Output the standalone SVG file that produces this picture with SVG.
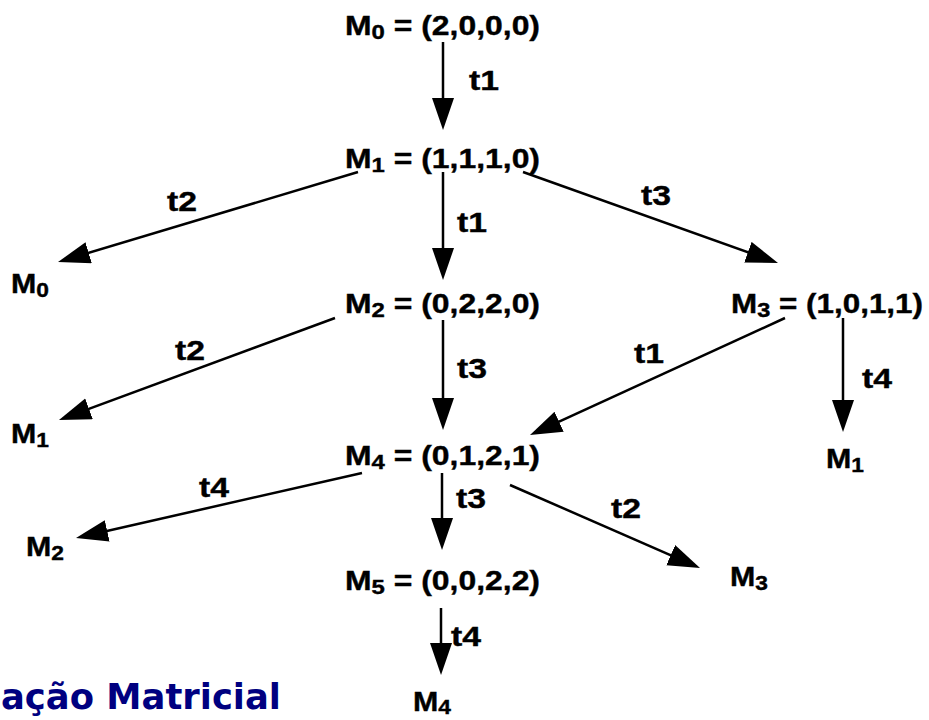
<svg xmlns="http://www.w3.org/2000/svg" width="929" height="720" viewBox="0 0 929 720">
<style>
text{font-family:"Liberation Sans",Arial,sans-serif;font-weight:bold;font-size:28px;fill:#000;stroke:#000;stroke-width:0.4}
.sub{font-size:21px}
.edge{stroke:#000;stroke-width:2.5;fill:none;marker-end:url(#ah)}
.title{font-family:"DejaVu Sans",Verdana,sans-serif;font-size:36px;fill:#000080;stroke:none}
</style>
<defs>
<marker id="ah" markerUnits="userSpaceOnUse" markerWidth="34" markerHeight="24" refX="24" refY="11" orient="auto" viewBox="0 0 34 24">
<path d="M0,0 L32,11 L0,22 z" fill="#000"/>
</marker>
</defs>
<rect width="929" height="720" fill="#fff"/>
<g id="connectors">
<line class="edge" x1="443" y1="42" x2="443" y2="122"/>
<line class="edge" x1="358" y1="172" x2="65.7" y2="259.7"/>
<line class="edge" x1="443" y1="172" x2="443" y2="272"/>
<line class="edge" x1="523" y1="172" x2="770.5" y2="260.3"/>
<line class="edge" x1="335" y1="318" x2="66.5" y2="417.2"/>
<line class="edge" x1="443" y1="320" x2="443" y2="422"/>
<line class="edge" x1="785" y1="318" x2="537.3" y2="431.7"/>
<line class="edge" x1="843" y1="318" x2="843" y2="424"/>
<line class="edge" x1="362" y1="473" x2="83.8" y2="536.2"/>
<line class="edge" x1="442" y1="473" x2="442" y2="542"/>
<line class="edge" x1="510" y1="485" x2="692.7" y2="564.8"/>
<line class="edge" x1="441" y1="608" x2="441" y2="667"/>
<text x="469" y="90" textLength="30" lengthAdjust="spacingAndGlyphs">t1</text>
<text x="167" y="211" textLength="30" lengthAdjust="spacingAndGlyphs">t2</text>
<text x="457" y="232" textLength="30" lengthAdjust="spacingAndGlyphs">t1</text>
<text x="641" y="205" textLength="30" lengthAdjust="spacingAndGlyphs">t3</text>
<text x="175" y="360" textLength="30" lengthAdjust="spacingAndGlyphs">t2</text>
<text x="457" y="378" textLength="30" lengthAdjust="spacingAndGlyphs">t3</text>
<text x="634" y="363" textLength="30" lengthAdjust="spacingAndGlyphs">t1</text>
<text x="862" y="388" textLength="30" lengthAdjust="spacingAndGlyphs">t4</text>
<text x="199" y="497" textLength="30" lengthAdjust="spacingAndGlyphs">t4</text>
<text x="456" y="508" textLength="30" lengthAdjust="spacingAndGlyphs">t3</text>
<text x="611" y="518" textLength="30" lengthAdjust="spacingAndGlyphs">t2</text>
<text x="451" y="646" textLength="30" lengthAdjust="spacingAndGlyphs">t4</text>
</g>
<g id="M0"><text x="345" y="35" textLength="195" lengthAdjust="spacingAndGlyphs">M<tspan class="sub" dy="4">0</tspan><tspan dy="-4"> = (2,0,0,0)</tspan></text></g>
<g id="M1"><text x="345" y="168" textLength="195" lengthAdjust="spacingAndGlyphs">M<tspan class="sub" dy="4">1</tspan><tspan dy="-4"> = (1,1,1,0)</tspan></text></g>
<g id="M2"><text x="345" y="313" textLength="195" lengthAdjust="spacingAndGlyphs">M<tspan class="sub" dy="4">2</tspan><tspan dy="-4"> = (0,2,2,0)</tspan></text></g>
<g id="M3"><text x="731" y="313" textLength="192" lengthAdjust="spacingAndGlyphs">M<tspan class="sub" dy="4">3</tspan><tspan dy="-4"> = (1,0,1,1)</tspan></text></g>
<g id="M4"><text x="345" y="465" textLength="195" lengthAdjust="spacingAndGlyphs">M<tspan class="sub" dy="4">4</tspan><tspan dy="-4"> = (0,1,2,1)</tspan></text></g>
<g id="M5"><text x="345" y="590" textLength="195" lengthAdjust="spacingAndGlyphs">M<tspan class="sub" dy="4">5</tspan><tspan dy="-4"> = (0,0,2,2)</tspan></text></g>
<g id="leaf-M0"><text x="11" y="293" textLength="38" lengthAdjust="spacingAndGlyphs">M<tspan class="sub" dy="4">0</tspan></text></g>
<g id="leaf-M1a"><text x="11" y="443" textLength="38" lengthAdjust="spacingAndGlyphs">M<tspan class="sub" dy="4">1</tspan></text></g>
<g id="leaf-M1b"><text x="826" y="468" textLength="38" lengthAdjust="spacingAndGlyphs">M<tspan class="sub" dy="4">1</tspan></text></g>
<g id="leaf-M2"><text x="26" y="556" textLength="38" lengthAdjust="spacingAndGlyphs">M<tspan class="sub" dy="4">2</tspan></text></g>
<g id="leaf-M3"><text x="730" y="586" textLength="38" lengthAdjust="spacingAndGlyphs">M<tspan class="sub" dy="4">3</tspan></text></g>
<g id="leaf-M4"><text x="413" y="711" textLength="38" lengthAdjust="spacingAndGlyphs">M<tspan class="sub" dy="3">4</tspan></text></g>
<g id="title"><text class="title" x="1" y="709" textLength="280" lengthAdjust="spacingAndGlyphs">ação Matricial</text></g>
</svg>
